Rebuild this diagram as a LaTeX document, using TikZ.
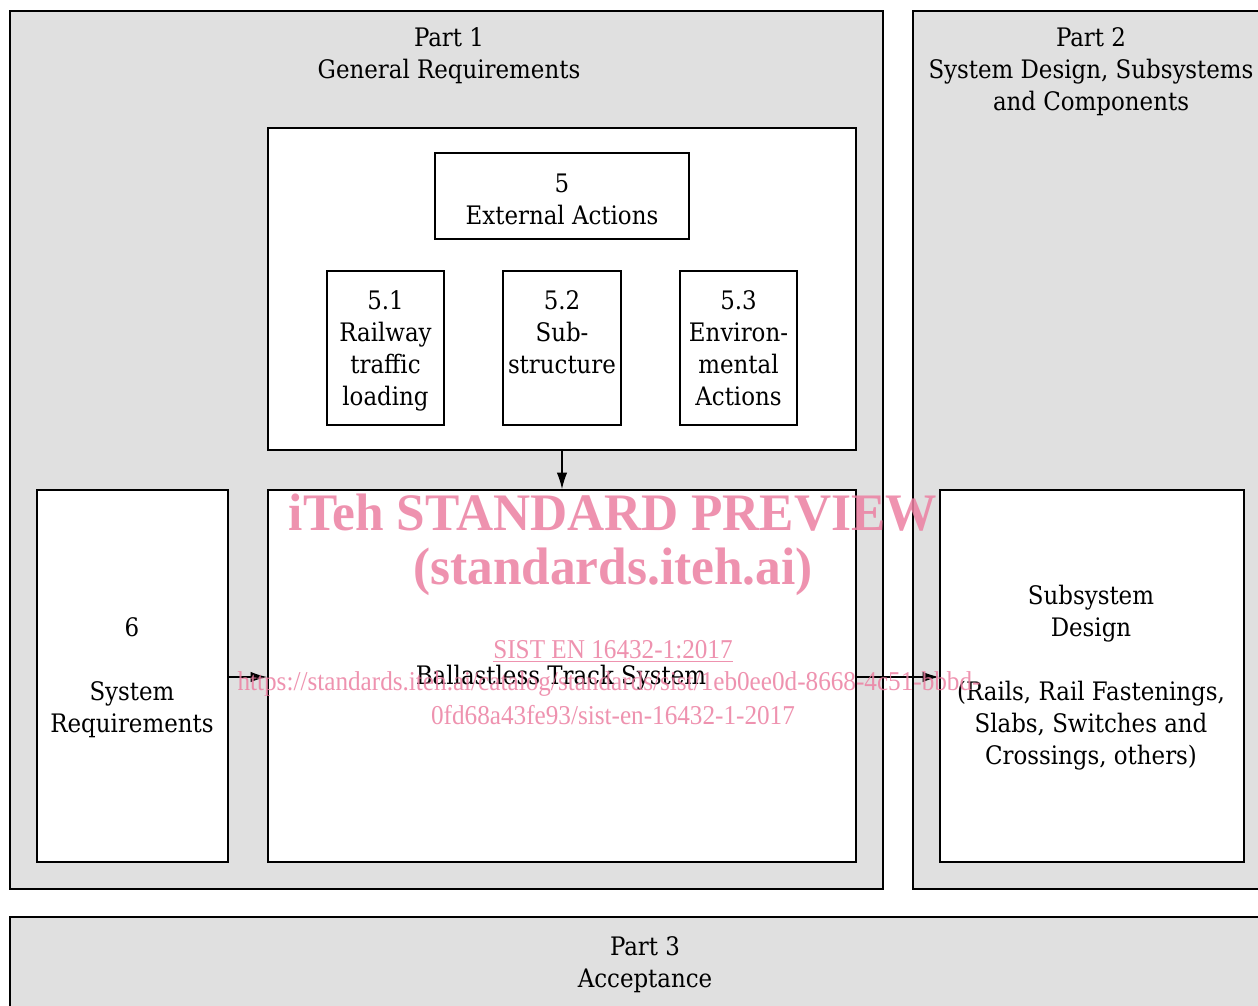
\documentclass[tikz,border=0pt]{standalone}
\usepackage{fontspec}
\setmainfont{DejaVu Serif Condensed}
\newfontfamily\wmfont{Liberation Serif}
\usetikzlibrary{arrows.meta}
\definecolor{partgray}{RGB}{224,224,224}
\definecolor{wmpink}{RGB}{236,128,162}
\tikzset{
  partbox/.style={draw=black, line width=0.9pt, fill=partgray},
  whitebox/.style={draw=black, line width=0.9pt, fill=white},
  lbl/.style={align=center, font=\fontsize{14.5}{18.2}\selectfont, inner sep=0pt},
  flow/.style={line width=0.8pt, -{Latex[length=9.5pt,width=6pt]}},
  wm/.style={text=wmpink, opacity=0.85, inner sep=0pt, font=\wmfont},
  wmbig/.style={wm, font=\wmfont\bfseries\fontsize{30}{34}\selectfont, xscale=0.975},
  wmsmall/.style={wm, font=\wmfont\fontsize{15.5}{18}\selectfont, xscale=0.925},
}
\begin{document}
\begin{tikzpicture}[x=0.02cm, y=-0.02cm]
\useasboundingbox (0,0) rectangle (1258,1006);

% part frames
\draw[partbox] (10,11) rectangle (883,889);
\draw[partbox] (913,11) rectangle (1270,889);
\draw[partbox] (10,917) rectangle (1270,1020);

\node[lbl] (p1t) at (449,56) {Part 1\\General Requirements};
\node[lbl] (p2t) at (1091,72) {Part 2\\System Design, Subsystems\\and Components};
\node[lbl] (p3t) at (645,965) {Part 3\\Acceptance};

% external actions group
\node[whitebox, minimum width=588*0.02cm, minimum height=322*0.02cm, inner sep=0pt] (ext) at (562,289) {};
\node[whitebox, minimum width=254*0.02cm, minimum height=86*0.02cm, inner sep=0pt] (ea) at (562,196) {};
\node[lbl] (eat) at (562,199) {5\\External Actions};

\node[whitebox, minimum width=117*0.02cm, minimum height=154*0.02cm, inner sep=0pt] (a1) at (385.5,348) {};
\node[whitebox, minimum width=118*0.02cm, minimum height=154*0.02cm, inner sep=0pt] (a2) at (562,348) {};
\node[whitebox, minimum width=117*0.02cm, minimum height=154*0.02cm, inner sep=0pt] (a3) at (738.5,348) {};
\node[lbl, anchor=north] (a1t) at (385.5,290) {5.1\\Railway\\traffic\\loading};
\node[lbl, anchor=north] (a2t) at (562,290) {5.2\\Sub-\\structure};
\node[lbl, anchor=north] (a3t) at (738.5,290) {5.3\\Environ-\\mental\\Actions};

% lower row
\node[whitebox, minimum width=191*0.02cm, minimum height=372*0.02cm, inner sep=0pt] (sr) at (132.5,676) {};
\node[lbl] (srt) at (132,678) {6\\[18.2pt]System\\Requirements};

\node[whitebox, minimum width=588*0.02cm, minimum height=372*0.02cm, inner sep=0pt] (bt) at (562,676) {};
\node[lbl] (btt) at (561,678) {Ballastless Track System};

\node[whitebox, minimum width=304*0.02cm, minimum height=372*0.02cm, inner sep=0pt] (sd) at (1092,676) {};
\node[lbl] (sdt) at (1091,678) {Subsystem\\Design\\[18.2pt](Rails, Rail Fastenings,\\Slabs, Switches and\\Crossings, others)};

% connectors
\draw[flow] (ext.south) -- (bt.north);
\draw[flow] (sr.east |- 0,677) -- (bt.west |- 0,677);
\draw[flow] (bt.east |- 0,677) -- (sd.west |- 0,677);

% preview stamp
\node[wmbig] (w1) at (613,513) {iTeh STANDARD PREVIEW};
\node[wmbig] (w2) at (613,572) {(standards.iteh.ai)};
\node[wmsmall] (w3) at (613,651) {\underline{SIST EN 16432-1:2017}};
\node[wmsmall] (w4) at (609,684) {https://standards.iteh.ai/catalog/standards/sist/1eb0ee0d-8668-4c51-bbbd-};
\node[wmsmall] (w5) at (613,715) {0fd68a43fe93/sist-en-16432-1-2017};
\end{tikzpicture}
\end{document}
